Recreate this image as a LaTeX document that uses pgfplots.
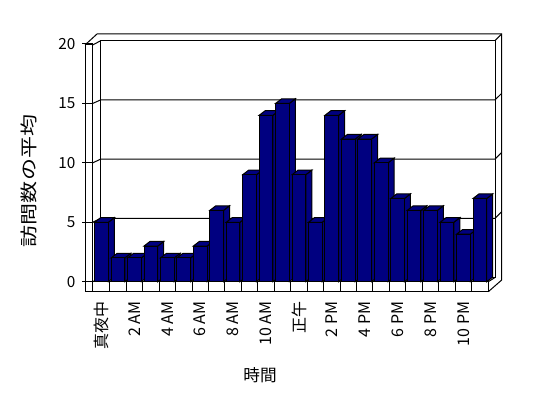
\documentclass[border=0pt]{standalone}
\usepackage{fontspec}
\setmainfont{Noto Sans CJK JP}
\usepackage{pgfplots}
\usepackage{pgfplotstable}
\pgfplotsset{compat=1.18}
\definecolor{barblue}{RGB}{0,0,128}

\pgfplotstableread{
h v
0 5
1 2
2 2
3 3
4 2
5 2
6 3
7 6
8 5
9 9
10 14
11 15
12 9
13 5
14 14
15 12
16 12
17 10
18 7
19 6
20 6
21 5
22 4
23 7
}\visits

% 3D bar drawn at the data point (top centre of the front face)
\pgfdeclareplotmark{bar3d}{%
  \pgfmathsetlengthmacro\bh{\val*8.914pt}%
  \pgfmathsetlengthmacro\bhs{3.45pt-\val*8.914pt}%
  \pgfsetlinewidth{0.75pt}%
  \pgfsetmiterjoin
  \pgfsetstrokecolor{black}%
  \pgfsetfillcolor{barblue}%
  % side face
  \pgfpathmoveto{\pgfqpoint{5.14pt}{0pt}}%
  \pgfpathlineto{\pgfqpoint{9.64pt}{3.45pt}}%
  \pgfpathlineto{\pgfqpoint{9.64pt}{\bhs}}%
  \pgfpathlineto{\pgfqpoint{5.14pt}{-\bh}}%
  \pgfpathclose
  \pgfusepath{fill,stroke}%
  % top face
  \pgfpathmoveto{\pgfqpoint{-5.14pt}{0pt}}%
  \pgfpathlineto{\pgfqpoint{-0.64pt}{3.45pt}}%
  \pgfpathlineto{\pgfqpoint{9.64pt}{3.45pt}}%
  \pgfpathlineto{\pgfqpoint{5.14pt}{0pt}}%
  \pgfpathclose
  \pgfusepath{fill,stroke}%
  % front face
  \pgfpathrectanglecorners{\pgfqpoint{-5.14pt}{-\bh}}{\pgfqpoint{5.14pt}{0pt}}%
  \pgfusepath{fill,stroke}%
}

\begin{document}
\begin{tikzpicture}[x=0.75pt,y=-0.75pt]
\useasboundingbox (0,0) rectangle (548,398);
\begin{scope}[line width=0.75pt, draw=black]
  % back wall
  \draw (100.7,277.5) -- (100.7,40.7) -- (495,40.7) -- (495,277.5) -- cycle;
  % gridlines with their continuation on the side walls
  \foreach \v in {5,10,15} {
    \pgfmathsetmacro\yb{277.5-\v*11.84}
    \pgfmathsetmacro\yf{281.7-\v*11.885}
    \draw (92.7,\yf) -- (100.7,\yb) -- (495,\yb) -- (501.7,\yb-6.6);
  }
  % ticks on the front of the left wall
  \foreach \v in {0,5,10,15,20} {
    \pgfmathsetmacro\yf{281.7-\v*11.885}
    \draw (82,\yf) -- (92.7,\yf);
  }
  % left wall slab
  \draw (85,291.7) rectangle (92.7,45);
  \draw (85,45) -- (97,34) -- (501.7,34) -- (501.7,280) -- (488.3,291.7);
  \draw (92.7,45) -- (100.7,40.7);
  \draw (495,40.7) -- (501.7,34);
  % floor slab
  \draw (92.7,281.7) rectangle (488.3,291.7);
  \draw (488.3,281.7) -- (495,277.5);
  \draw (92.7,281.7) -- (100.7,277.5);
  \foreach \k in {1,...,23} {
    \draw ({93.3+16.45*\k},281.7) -- ({93.3+16.45*\k},291.7);
  }
\end{scope}

\node[rotate=90, font=\fontsize{13pt}{15pt}\selectfont, inner sep=0pt] at (29,181) {\scalebox{1.27}[1]{訪問数の平均}};
\node[font=\fontsize{12.5pt}{15pt}\selectfont, inner sep=0pt] at (260,375) {時間};

\begin{axis}[
  at={(69.975pt,-211.275pt)}, anchor=south west,
  scale only axis, width=296.1pt, height=178.3pt,
  xmin=-0.5, xmax=23.5, ymin=0, ymax=20,
  axis line style={draw=none}, major tick length=0pt,
  clip=false,
  xtick={0,2,...,22},
  xticklabels={真夜中,2 AM,4 AM,6 AM,8 AM,10 AM,正午,2 PM,4 PM,6 PM,8 PM,10 PM},
  xticklabel style={rotate=90, anchor=east, inner sep=0pt, xshift=-14.85pt,
    font=\fontsize{12pt}{14pt}\selectfont},
  ytick={0,5,10,15,20},
  yticklabel style={anchor=east, inner sep=0pt, xshift=-13.3pt,
    font=\fontsize{11.5pt}{14pt}\selectfont},
  /pgf/number format/assume math mode=true,
]
\addplot[scatter, only marks, mark=bar3d,
  scatter/use mapped color={draw=black, fill=barblue},
  visualization depends on={\thisrow{v} \as \val}]
  table[x=h, y=v] {\visits};
\end{axis}
\end{tikzpicture}
\end{document}
